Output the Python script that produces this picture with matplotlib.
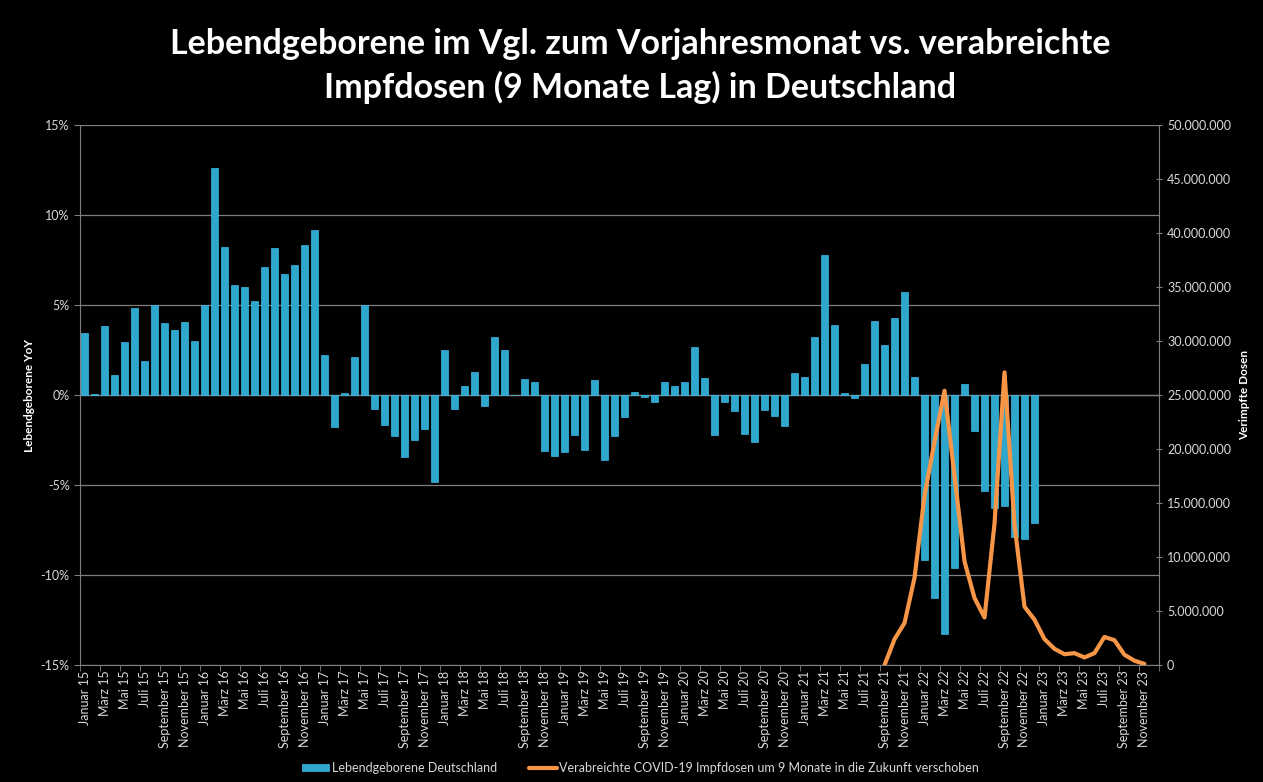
import numpy as np
import matplotlib
matplotlib.use("Agg")
import matplotlib.pyplot as plt
from matplotlib.ticker import FuncFormatter, MultipleLocator, FixedLocator

plt.rcParams['font.family'] = ['Lato', 'DejaVu Sans']

# Monatsnamen
monate = ["Januar", "Februar", "März", "April", "Mai", "Juni", "Juli",
          "August", "September", "Oktober", "November", "Dezember"]
jahre = list(range(15, 24))
kategorien = [f"{m} {j}" for j in jahre for m in monate]  # Jan 15 .. Dez 23

# Lebendgeborene YoY in % (Januar 15 bis Dezember 22)
geburten_yoy = [
    3.47, 0.04, 3.84, 1.13, 2.97, 4.83, 1.92, 4.99, 4.02, 3.60, 4.08, 3.01,
    4.99, 12.63, 8.22, 6.10, 5.98, 5.21, 7.09, 8.18, 6.75, 7.23, 8.36, 9.19,
    2.24, -1.80, 0.14, 2.14, 4.99, -0.79, -1.68, -2.30, -3.45, -2.51, -1.86, -4.85,
    2.51, -0.79, 0.53, 1.27, -0.59, 3.25, 2.51, 0.02, 0.87, 0.71, -3.11, -3.39,
    -3.19, -2.20, -3.07, 0.81, -3.62, -2.30, -1.21, 0.18, -0.10, -0.38, 0.73, 0.53,
    0.73, 2.69, 0.93, -2.20, -0.36, -0.89, -2.14, -2.59, -0.85, -1.19, -1.72, 1.23,
    0.99, 3.25, 7.80, 3.88, 0.10, -0.16, 1.74, 4.12, 2.77, 4.28, 5.72, 0.99,
    -9.19, -11.29, -13.29, -9.60, 0.59, -2.00, -5.35, -6.30, -6.18, -7.88, -8.02, -7.09,
]

# Verabreichte Impfdosen, 9 Monate verschoben (September 21 bis November 23)
impf_start = 80  # Index September 21
impfdosen = [
    0.0, 2.4e6, 3.9e6, 8.1e6, 15.7e6, 20.7e6, 25.4e6, 17.5e6, 9.6e6, 6.2e6,
    4.4e6, 13.1e6, 27.1e6, 13.0e6, 5.4e6, 4.2e6, 2.4e6, 1.5e6, 1.0e6, 1.1e6,
    0.7e6, 1.1e6, 2.6e6, 2.3e6, 0.95e6, 0.4e6, 0.1e6,
]

bg = "black"
txt = "#d9d9d9"
grid = "#7f7f7f"

fig = plt.figure(figsize=(12.63, 7.82), dpi=100, facecolor=bg)
ax = fig.add_axes([0.0633, 0.1496, 0.8547, 0.6904], facecolor=bg)

x = np.arange(len(geburten_yoy))
ax.bar(x, geburten_yoy, width=0.7, color="#2fa6cc", edgecolor="#3cbde3",
       linewidth=0.5, zorder=3, label="Lebendgeborene Deutschland")

ax.set_xlim(-0.5, len(kategorien) - 0.5)
ax.set_ylim(-15, 15)
ax.yaxis.set_major_locator(MultipleLocator(5))
ax.yaxis.set_major_formatter(FuncFormatter(lambda v, p: f"{v:.0f}%"))
ax.grid(axis="y", color=grid, linewidth=0.9, zorder=0)
ax.axhline(0, color=grid, linewidth=0.9, zorder=2)

tick_pos = np.arange(0, len(kategorien) - 1, 2)
ax.set_xticks(tick_pos)
ax.set_xticklabels([kategorien[i] for i in tick_pos], rotation=90,
                   fontsize=9, color=txt)
ax.tick_params(axis="x", length=0, pad=4)
ax.xaxis.set_minor_locator(FixedLocator(np.arange(-0.5, len(kategorien), 2)))
ax.tick_params(axis="x", which="minor", length=4, color=grid)
ax.tick_params(axis="y", colors=txt, labelsize=9, length=4, color=grid)

for s in ["top", "right"]:
    ax.spines[s].set_visible(False)
for s in ["left", "bottom"]:
    ax.spines[s].set_color(grid)

ax.set_ylabel("Lebendgeborene YoY", color="white", fontsize=8.5,
              fontweight="bold", labelpad=4)

ax2 = ax.twinx()
xi = np.arange(impf_start, impf_start + len(impfdosen))
ax2.plot(xi, impfdosen, color="#f79646", linewidth=3, zorder=4,
         solid_capstyle="round",
         label="Verabreichte COVID-19 Impfdosen um 9 Monate in die Zukunft verschoben")
ax2.set_ylim(0, 50e6)
ax2.yaxis.set_major_locator(MultipleLocator(5e6))
ax2.yaxis.set_major_formatter(
    FuncFormatter(lambda v, p: f"{v:,.0f}".replace(",", ".")))
ax2.tick_params(axis="y", colors=txt, labelsize=9, length=4, color=grid,
                direction="inout")
for s in ["top", "left", "bottom"]:
    ax2.spines[s].set_visible(False)
ax2.spines["right"].set_color(grid)
ax2.set_ylabel("Verimpfte Dosen", color="white", fontsize=8.5,
               fontweight="bold", labelpad=6)

fig.text(0.507, 0.944, "Lebendgeborene im Vgl. zum Vorjahresmonat vs. verabreichte",
         ha="center", va="center", color="white", fontsize=24.5, fontweight="bold")
fig.text(0.507, 0.888, "Impfdosen (9 Monate Lag) in Deutschland",
         ha="center", va="center", color="white", fontsize=24.5, fontweight="bold")

h1, l1 = ax.get_legend_handles_labels()
h2, l2 = ax2.get_legend_handles_labels()
leg = fig.legend(h1 + h2, l1 + l2, loc="center", bbox_to_anchor=(0.507, 0.018),
                 ncol=2, frameon=False, fontsize=9, labelcolor=txt,
                 handlelength=2.2, handleheight=0.6, columnspacing=2.6,
                 handletextpad=0.2)

fig.savefig("out.png", dpi=100, facecolor=bg)
